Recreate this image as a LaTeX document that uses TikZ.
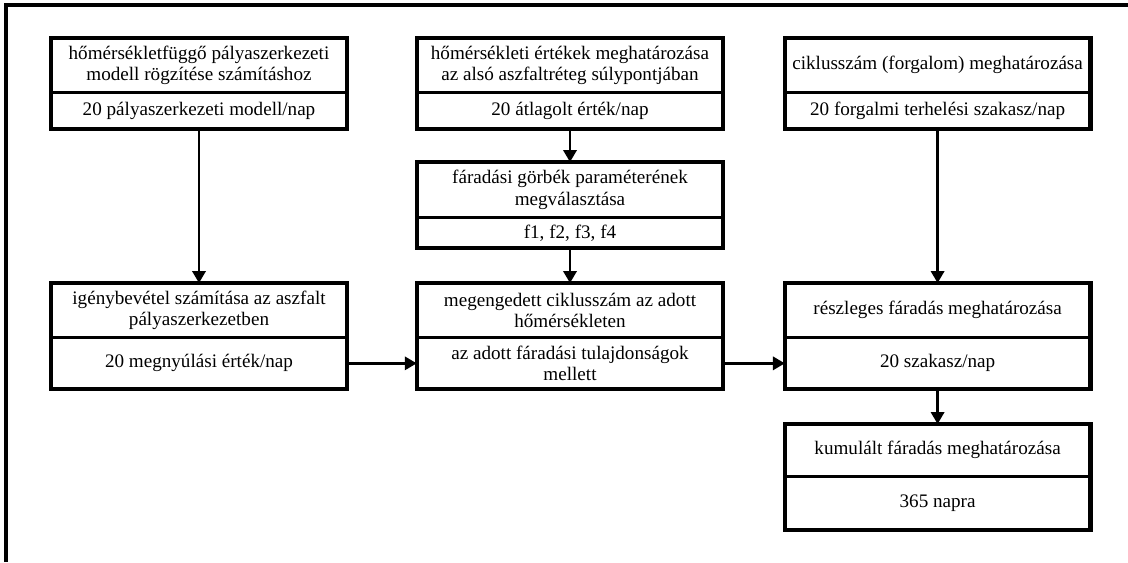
\documentclass[tikz,border=0pt]{standalone}
\usepackage{fontspec}
\setmainfont{Liberation Serif}
\usetikzlibrary{positioning,arrows.meta}
\begin{document}
\begin{tikzpicture}[
        part/.style={inner sep=0pt,align=center,font=\fontsize{13.6}{15.4}\selectfont},
        frame/.style={line width=3pt},
        divider/.style={line width=1.6pt},
        arr/.style={line width=1.7pt,-{Triangle[length=8.5pt,width=9.5pt]}}
    ]
        \useasboundingbox (0,0) rectangle (28.2,-14.05);
        \draw[line width=2.6pt] (0.15,-14.05) -- (0.15,-0.125) -- (28.2,-0.125);
        % top row
        \node[part,below,minimum width=7.4cm,minimum height=1.35cm] (aT) at (4.975,-0.95)
            {hőmérsékletfüggő pályaszerkezeti\\modell rögzítése számításhoz};
        \node[part,below=0pt of aT,minimum width=7.4cm,minimum height=0.9cm] (aB)
            {20 pályaszerkezeti modell/nap};
        \node[part,below,minimum width=7.65cm,minimum height=1.35cm] (bT) at (14.25,-0.95)
            {hőmérsékleti értékek meghatározása\\az alsó aszfaltréteg súlypontjában};
        \node[part,below=0pt of bT,minimum width=7.65cm,minimum height=0.9cm] (bB)
            {20 átlagolt érték/nap};
        \node[part,below,minimum width=7.625cm,minimum height=1.35cm] (cT) at (23.44,-0.95)
            {ciklusszám (forgalom) meghatározása};
        \node[part,below=0pt of cT,minimum width=7.625cm,minimum height=0.9cm] (cB)
            {20 forgalmi terhelési szakasz/nap};
        % fatigue curves
        \node[part,below,minimum width=7.65cm,minimum height=1.375cm] (dT) at (14.25,-4.05)
            {fáradási görbék paraméterének\\megválasztása};
        \node[part,below=0pt of dT,minimum width=7.65cm,minimum height=0.75cm] (dB)
            {f1, f2, f3, f4};
        % second row
        \node[part,below,minimum width=7.4cm,minimum height=1.35cm] (eT) at (4.975,-7.075)
            {igénybevétel számítása az aszfalt\\pályaszerkezetben};
        \node[part,below=0pt of eT,minimum width=7.4cm,minimum height=1.275cm] (eB)
            {20 megnyúlási érték/nap};
        \node[part,below,minimum width=7.65cm,minimum height=1.35cm] (fT) at (14.25,-7.075)
            {megengedett ciklusszám az adott\\hőmérsékleten};
        \node[part,below=0pt of fT,minimum width=7.65cm,minimum height=1.275cm] (fB)
            {az adott fáradási tulajdonságok\\mellett};
        \node[part,below,minimum width=7.625cm,minimum height=1.35cm] (gT) at (23.44,-7.075)
            {részleges fáradás meghatározása};
        \node[part,below=0pt of gT,minimum width=7.625cm,minimum height=1.275cm] (gB)
            {20 szakasz/nap};
        % cumulated
        \node[part,below,minimum width=7.625cm,minimum height=1.3cm] (hT) at (23.44,-10.6)
            {kumulált fáradás meghatározása};
        \node[part,below=0pt of hT,minimum width=7.625cm,minimum height=1.325cm] (hB)
            {365 napra};
        \foreach \n in {a,b,c,d,e,f,g,h} {
            \draw[frame] (\n T.north west) rectangle (\n B.south east);
            \draw[divider] (\n T.south west) -- (\n T.south east);
        }
        \draw[arr] (aB) -- (eT);
        \draw[arr] (bB) -- (dT);
        \draw[arr] (dB) -- (fT);
        \draw[arr] (cB) -- (gT);
        \draw[arr] (gB) -- (hT);
        \draw[arr] (eB) -- (fB);
        \draw[arr] (fB) -- (gB);
    \end{tikzpicture}
\end{document}
